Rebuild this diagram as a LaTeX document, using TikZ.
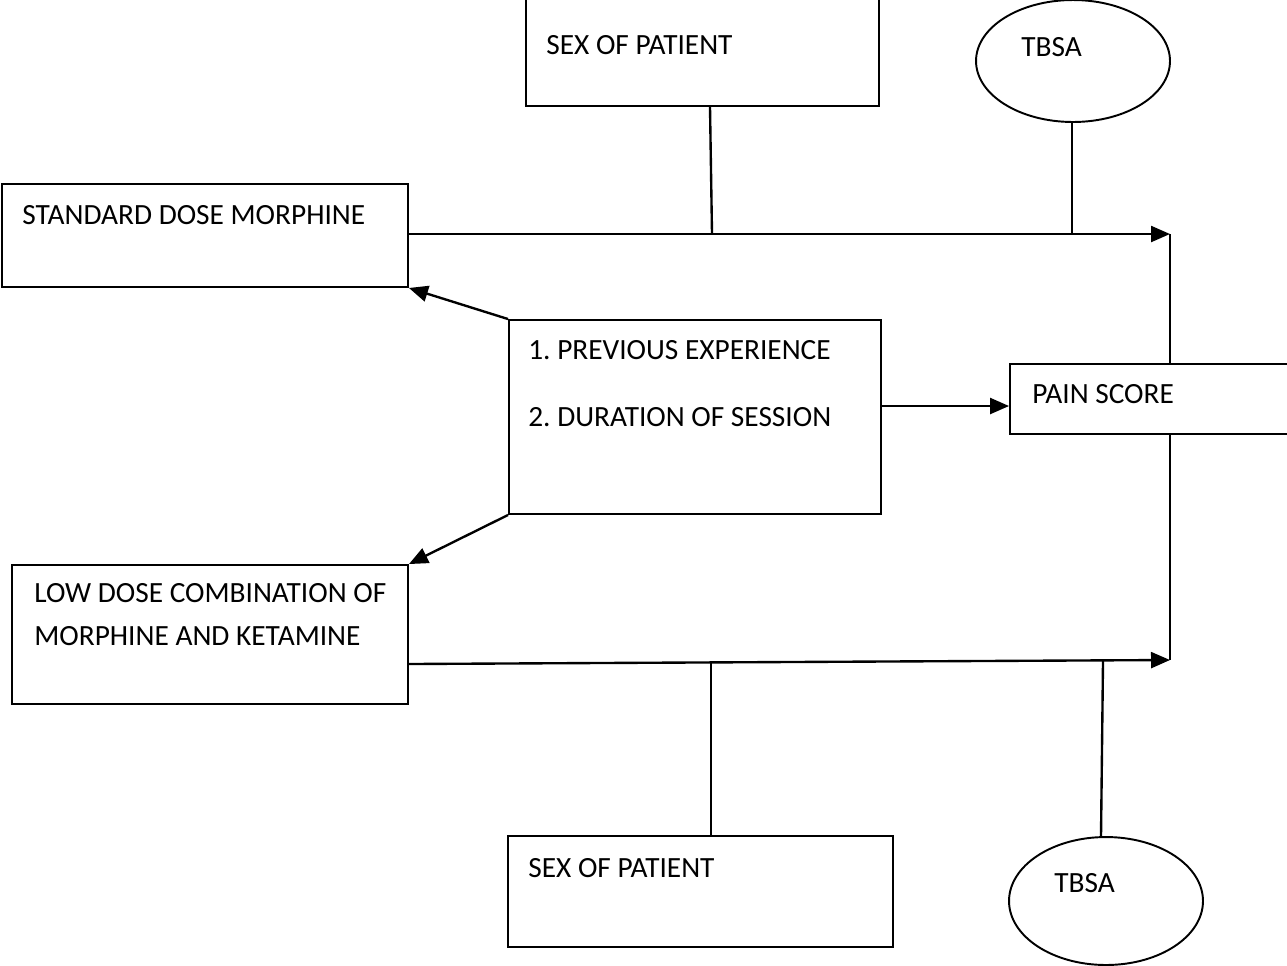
\documentclass[tikz,border=0pt]{standalone}
\usepackage{fontspec}
\setmainfont{Carlito}
\usetikzlibrary{arrows.meta,fit,shapes.geometric}
\begin{document}
\frenchspacing
\begin{tikzpicture}[x=0.02cm,y=-0.02cm,
  box/.style={draw,line width=1.1pt,rectangle,inner sep=0pt},
  oval/.style={draw,line width=1.1pt,ellipse,inner sep=0pt},
  lbl/.style={anchor=west,inner sep=0pt,font=\fontsize{16.7}{20}\selectfont},
  conn/.style={line width=1.35pt},
  arr/.style={line width=1.35pt,-{Triangle[length=0.38cm,width=0.32cm]}}]
\useasboundingbox (0,0) rectangle (1287,965);
% boxes
\node[box,fit={(526,-2) (879,106)}] (sex1) {};
\node[oval,minimum width=3.88cm,minimum height=2.44cm] (tbsa1) at (1073,61) {};
\node[box,fit={(2,184) (408,287)}] (morph) {};
\node[box,fit={(509,320) (881,514)}] (mid) {};
\node[box,fit={(1010,364) (1295,434)}] (pain) {};
\node[box,fit={(12,565) (408,704)}] (low) {};
\node[box,fit={(508,836) (893,947)}] (sex2) {};
\node[oval,minimum width=3.88cm,minimum height=2.56cm] (tbsa2) at (1106,901) {};
% labels
\node[lbl] (tsex1) at (546,45) {SEX OF PATIENT};
\node[lbl] (ttbsa1) at (1021,47) {TBSA};
\node[lbl] (tmorph) at (22,215) {STANDARD DOSE MORPHINE};
\node[lbl] (tmid1) at (528,350) {1. PREVIOUS EXPERIENCE};
\node[lbl] (tmid2) at (528,417) {2. DURATION OF SESSION};
\node[lbl] (tpain) at (1032,394) {PAIN SCORE};
\node[lbl] (tlow1) at (34,593) {LOW DOSE COMBINATION OF};
\node[lbl] (tlow2) at (34,636) {MORPHINE AND KETAMINE};
\node[lbl] (tsex2) at (528,868) {SEX OF PATIENT};
\node[lbl] (ttbsa2) at (1054,883) {TBSA};
% junction coordinates
\coordinate (m1) at (408,234);
\coordinate (j1) at (712,234);
\coordinate (j2) at (1072,234);
\coordinate (e1) at (1170,234);
\coordinate (l1) at (408,664);
\coordinate (j3) at (711,663);
\coordinate (j4) at (1103,661);
\coordinate (e2) at (1170,660);
\coordinate (py) at (0,406);
\coordinate (sx) at (710,0);
\coordinate (tx) at (1101,0);
% connectors
\draw[arr] (m1) -- (e1);
\draw[conn] (sex1.south -| sx) -- (j1);
\draw[conn] (tbsa1.south -| j2) -- (j2);
\draw[conn] (e1) -- (pain.north -| e1);
\draw[conn] (pain.south -| e2) -- (e2);
\draw[arr] (l1) -- (e2);
\draw[conn] (j3) -- (sex2.north -| j3);
\draw[conn] (j4) -- (tbsa2.north -| tx);
\draw[arr] (mid.north west) -- (morph.south east);
\draw[arr] (mid.south west) -- (low.north east);
\draw[arr] (mid.east |- py) -- (pain.west |- py);
\end{tikzpicture}
\end{document}
